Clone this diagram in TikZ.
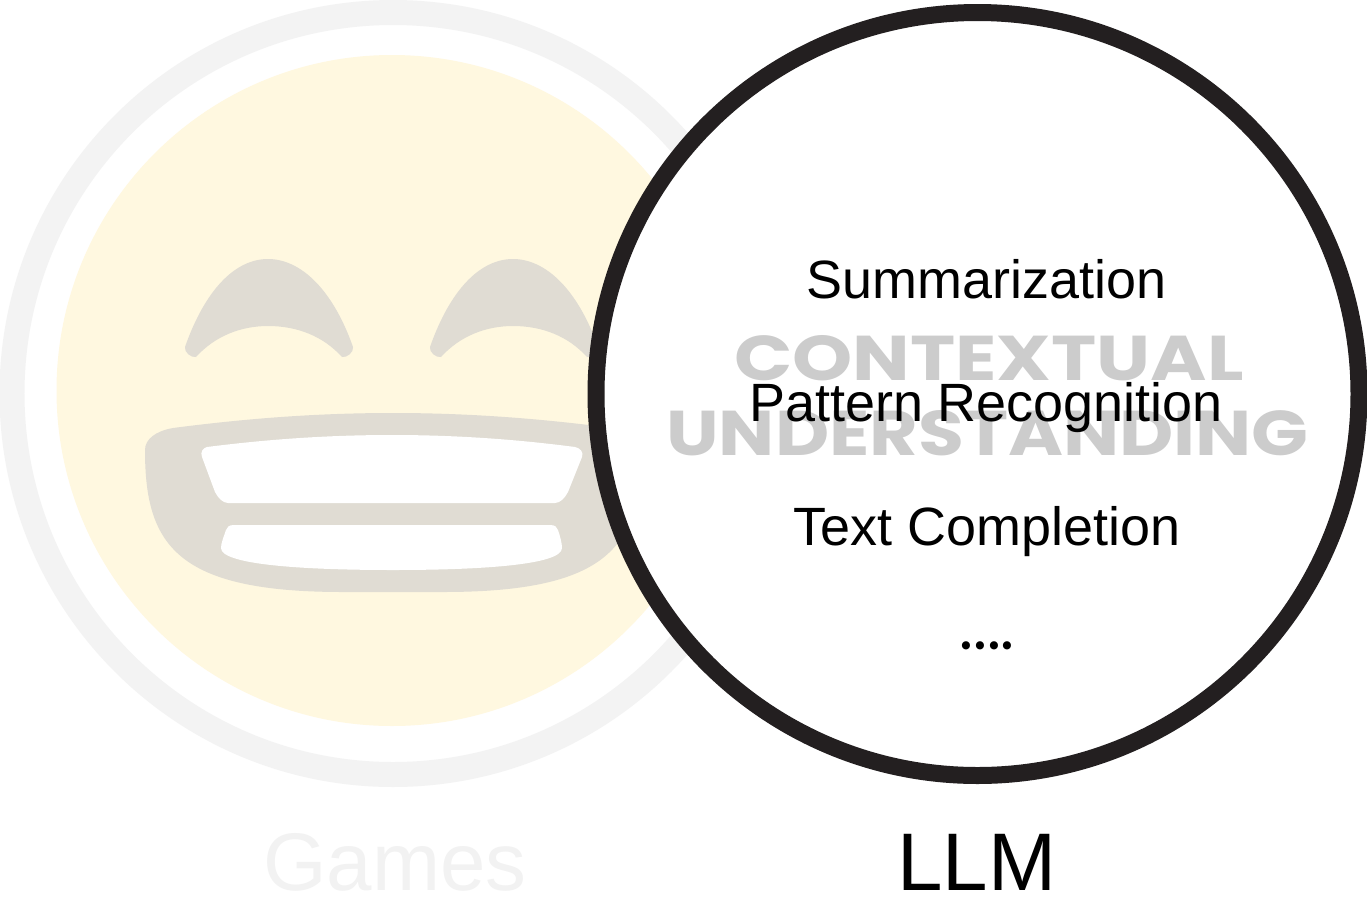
\documentclass[tikz,border=0pt]{standalone}
\usepackage{fontspec}
\setmainfont{Liberation Sans}
\newfontfamily\logofont{Poppins}
\usepackage{tikz}
\definecolor{ring}{RGB}{243, 243, 243}
\definecolor{face}{RGB}{255, 248, 224}
\definecolor{feature}{RGB}{224, 220, 211}
\definecolor{border}{RGB}{35, 31, 32}
\definecolor{logo}{RGB}{204, 204, 204}
\definecolor{faded}{RGB}{242, 242, 242}
\tikzset{
  label/.style={inner sep=0, anchor=base, font=\fontsize{30.7}{32}\selectfont},
  biglabel/.style={inner sep=0, anchor=base, font=\fontsize{46.5}{48}\selectfont},
  logotext/.style={inner sep=0, anchor=base, text=logo, font=\fontsize{36}{38}\selectfont\logofont\bfseries}
}

\begin{document}
\begin{tikzpicture}[x=0.02cm, y=-0.02cm]

  \useasboundingbox (0, 0) rectangle (1367, 917);

  % games side
  \begin{scope}

    \fill[white] (0, 0) rectangle (1367, 917);
    \draw[ring, line width=0.5cm] (393, 393.5) circle (381);
    \fill[face] (392, 390.5) circle (335.5);

    \foreach \dx in {0, 245} {
      \begin{scope}[shift={(\dx, 0)}]
        \fill[feature] (185, 347) .. controls (205, 290) and (235, 259) .. (268, 259)
                       .. controls (301, 259) and (333, 290) .. (353, 347)
                       .. controls (354, 352) and (347, 358) .. (342, 357)
                       .. controls (323, 336) and (297, 326) .. (268, 326)
                       .. controls (241, 326) and (215, 336) .. (196, 357)
                       .. controls (191, 358) and (184, 352) .. (185, 347) -- cycle;
      \end{scope}
    }

    \fill[feature] (173, 428) .. controls (250, 418) and (320, 413) .. (393, 413)
                   .. controls (466, 413) and (536, 418) .. (613, 428)
                   .. controls (630, 431) and (641, 439) .. (641, 450)
                   .. controls (641, 545) and (610, 592) .. (443, 592)
                   -- (343, 592)
                   .. controls (176, 592) and (145, 545) .. (145, 450)
                   .. controls (145, 439) and (156, 431) .. (173, 428) -- cycle;

    \fill[white] (207, 447) .. controls (270, 439) and (330, 435) .. (392, 435)
                 .. controls (454, 435) and (514, 439) .. (575, 447)
                 .. controls (580, 448) and (584, 452) .. (582, 457)
                 -- (568, 492)
                 .. controls (565, 498) and (560, 503) .. (555, 503)
                 -- (228, 503)
                 .. controls (223, 503) and (218, 498) .. (215, 492)
                 -- (202, 457)
                 .. controls (200, 452) and (203, 448) .. (207, 447) -- cycle;

    \fill[white] (234, 525) -- (550, 525)
                 .. controls (555, 525) and (557, 527) .. (558, 530)
                 .. controls (560, 536) and (562, 543) .. (562, 548)
                 .. controls (562, 565) and (480, 570) .. (393, 570)
                 .. controls (306, 570) and (221, 565) .. (221, 548)
                 .. controls (221, 543) and (224, 536) .. (226, 530)
                 .. controls (227, 527) and (229, 525) .. (234, 525) -- cycle;

    \node[biglabel, text=faded] (games) at (395, 890) {Games};

  \end{scope}

  % llm side
  \begin{scope}

    \draw[border, fill=white, line width=0.34cm] (977.5, 394) circle (381.5);

    \node[logotext] (contextual) at (989, 380) {\scalebox{1.21}[1]{CONTEXTUAL}};
    \node[logotext] (understanding) at (987.5, 455) {\scalebox{1.18}[1]{UNDERSTANDING}};

    \node[label] (summarization) at (986.5, 298) {Summarization};
    \node[label] (pattern) at (986, 421) {Pattern Recognition};
    \node[label] (completion) at (987, 545) {Text Completion};
    \node[label, font=\fontsize{37.5}{39}\selectfont\logofont] (dots) at (987, 649.5) {....};

    \node[biglabel] (llm) at (977, 890) {LLM};

  \end{scope}

\end{tikzpicture}
\end{document}
